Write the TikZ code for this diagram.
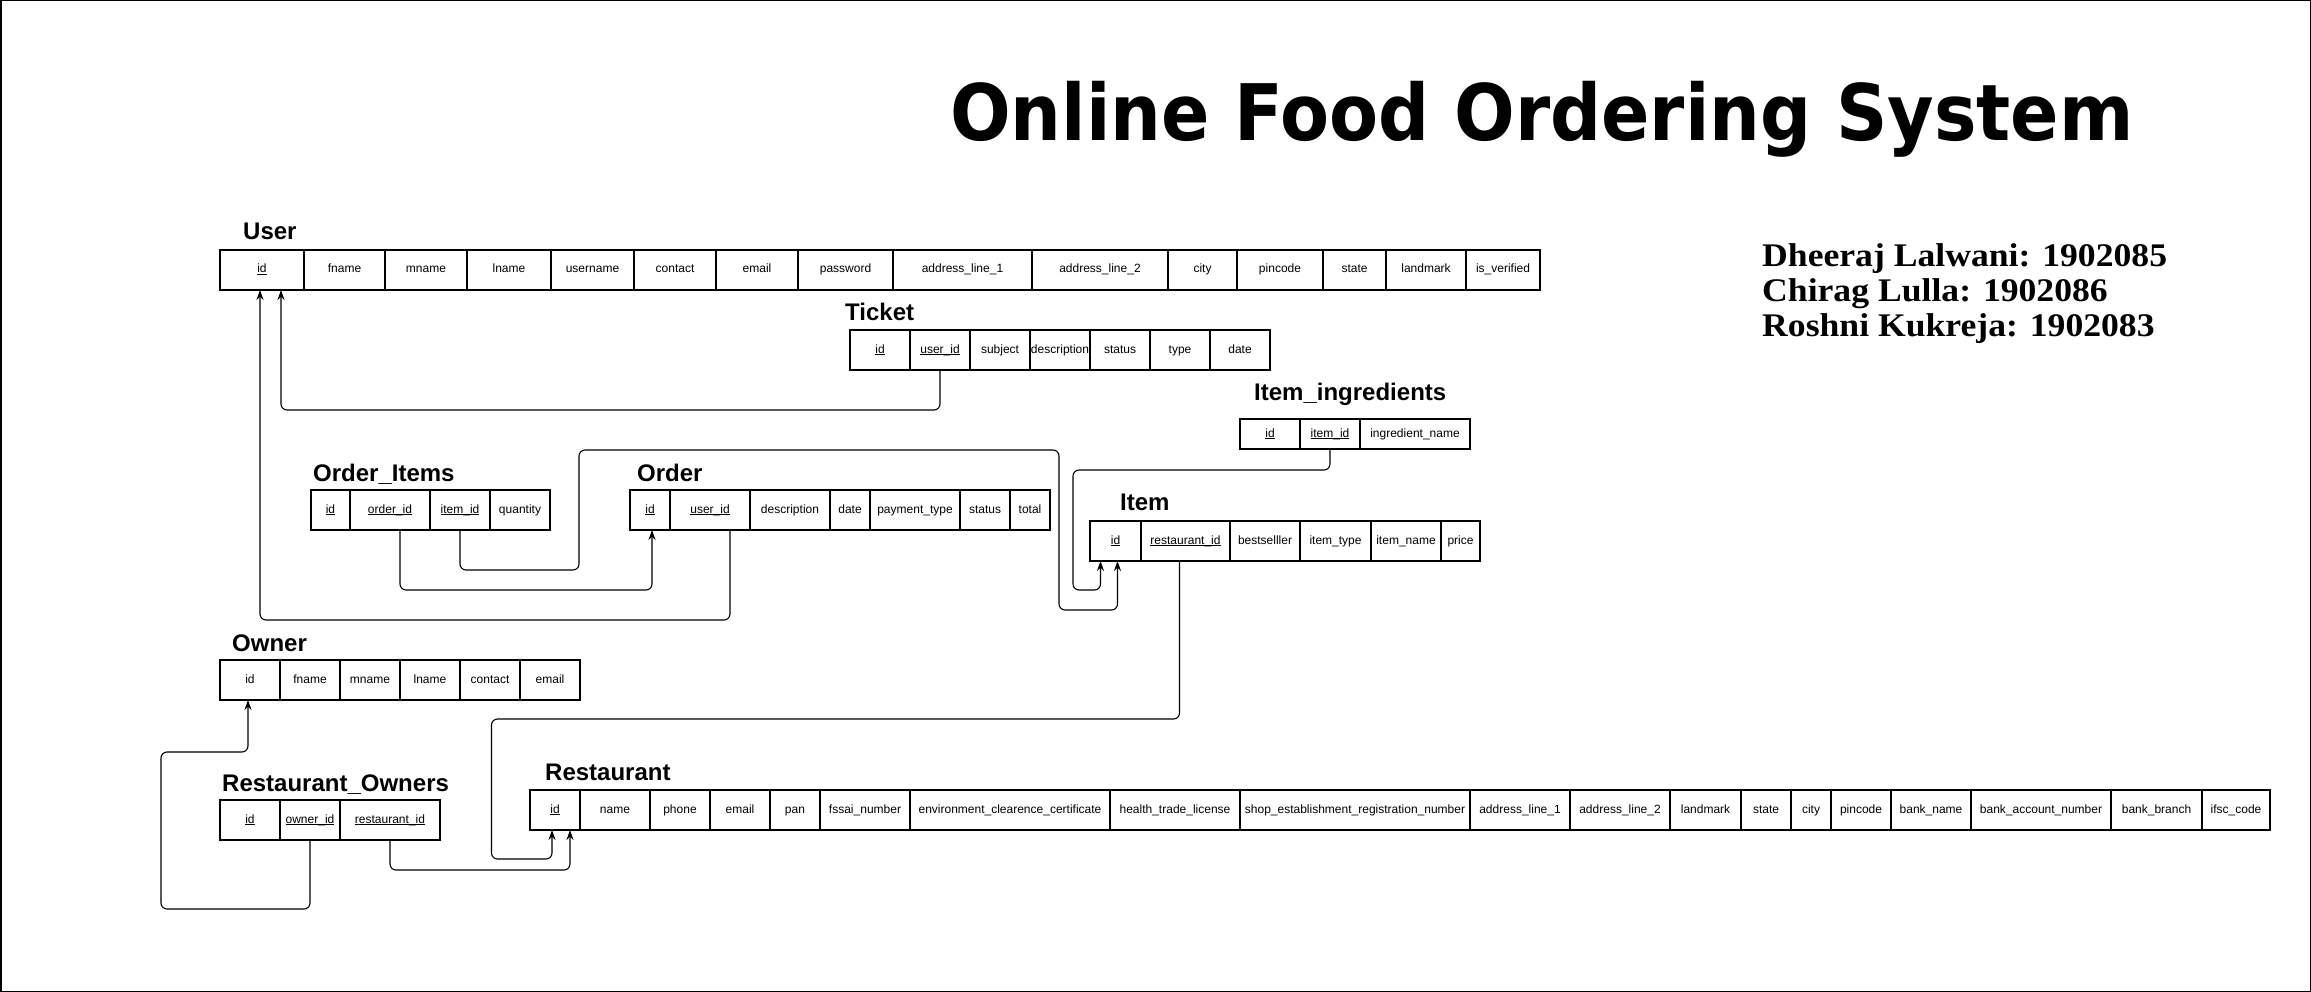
\documentclass[tikz,border=0pt]{standalone}
\usepackage{fontspec}
\setmainfont{Liberation Sans}
\newfontfamily\titlefamily{DejaVu Sans}
\newfontfamily\namefamily{Liberation Serif}
\usepackage{graphicx}
\usetikzlibrary{arrows.meta, positioning}
\newcommand{\Key}[1]{\underline{\smash{#1}}}
\newcommand{\cellfont}{\fontsize{12}{14}\selectfont}
\newcommand{\headfont}{\fontsize{24}{28}\selectfont\bfseries}
\tikzset{
    cell/.style={draw, line width=1.2pt, minimum height=40pt, inner sep=0pt, outer sep=0pt, text height=9pt, text depth=3pt, font=\cellfont},
    tname/.style={font=\headfont, anchor=base west, inner sep=0pt},
    fk/.style={-{Stealth[length=10pt,width=7pt]}, line width=1.1pt, rounded corners=6pt},
    author/.style={font=\namefamily\bfseries\fontsize{33}{35}\selectfont, anchor=base west, inner sep=0pt},
}
\begin{document}
\begin{tikzpicture}[x=1pt, y=-1pt]
    \useasboundingbox (0,0) rectangle (2311,992);
    \draw[line width=1.5pt] (0.75,0.75) rectangle (2310.25,991.25);

    \node[anchor=base west, inner sep=0pt, font=\titlefamily\bfseries\fontsize{78}{80}\selectfont] (title) at (950,141) {\scalebox{0.915}[1]{Online Food Ordering System}};
    \node[author] (n1) at (1762,267) {\scalebox{1.08}[1]{Dheeraj Lalwani: 1902085}};
    \node[author] (n2) at (1762,302) {\scalebox{1.08}[1]{Chirag Lulla: 1902086}};
    \node[author] (n3) at (1762,337) {\scalebox{1.08}[1]{Roshni Kukreja: 1902083}};

    % User
    \node[tname] (user) at (243,240) {User};
    \node[cell, minimum width=84pt, anchor=north west] (u1) at (220,250) {\Key{id}};
    \node[cell, minimum width=81pt, right=0pt of u1] (u2) {fname};
    \node[cell, minimum width=82pt, right=0pt of u2] (u3) {mname};
    \node[cell, minimum width=84pt, right=0pt of u3] (u4) {lname};
    \node[cell, minimum width=83pt, right=0pt of u4] (u5) {username};
    \node[cell, minimum width=82pt, right=0pt of u5] (u6) {contact};
    \node[cell, minimum width=82pt, right=0pt of u6] (u7) {email};
    \node[cell, minimum width=95pt, right=0pt of u7] (u8) {password};
    \node[cell, minimum width=139pt, right=0pt of u8] (u9) {address\_line\_1};
    \node[cell, minimum width=136pt, right=0pt of u9] (u10) {address\_line\_2};
    \node[cell, minimum width=69pt, right=0pt of u10] (u11) {city};
    \node[cell, minimum width=86pt, right=0pt of u11] (u12) {pincode};
    \node[cell, minimum width=63pt, right=0pt of u12] (u13) {state};
    \node[cell, minimum width=80pt, right=0pt of u13] (u14) {landmark};
    \node[cell, minimum width=74pt, right=0pt of u14] (u15) {is\_verified};

    % Ticket
    \node[tname] (ticket) at (845,321) {Ticket};
    \node[cell, minimum width=60pt, anchor=north west] (t1) at (850,330) {\Key{id}};
    \node[cell, minimum width=60pt, right=0pt of t1] (t2) {\Key{user\_id}};
    \node[cell, minimum width=60pt, right=0pt of t2] (t3) {subject};
    \node[cell, minimum width=60pt, right=0pt of t3] (t4) {description};
    \node[cell, minimum width=60pt, right=0pt of t4] (t5) {status};
    \node[cell, minimum width=60pt, right=0pt of t5] (t6) {type};
    \node[cell, minimum width=60pt, right=0pt of t6] (t7) {date};

    % Item_ingredients
    \node[tname] (ingr) at (1254,400) {Item\_ingredients};
    \node[cell, minimum height=30pt, minimum width=60pt, anchor=north west] (ig1) at (1240,419) {\Key{id}};
    \node[cell, minimum height=30pt, minimum width=60pt, right=0pt of ig1] (ig2) {\Key{item\_id}};
    \node[cell, minimum height=30pt, minimum width=110pt, right=0pt of ig2] (ig3) {ingredient\_name};

    % Order_Items
    \node[tname] (oitems) at (313,481) {Order\_Items};
    \node[cell, minimum width=39pt, anchor=north west] (oi1) at (311,490) {\Key{id}};
    \node[cell, minimum width=80pt, right=0pt of oi1] (oi2) {\Key{order\_id}};
    \node[cell, minimum width=60pt, right=0pt of oi2] (oi3) {\Key{item\_id}};
    \node[cell, minimum width=60pt, right=0pt of oi3] (oi4) {quantity};

    % Order
    \node[tname] (order) at (637,481) {Order};
    \node[cell, minimum width=40pt, anchor=north west] (o1) at (630,490) {\Key{id}};
    \node[cell, minimum width=80pt, right=0pt of o1] (o2) {\Key{user\_id}};
    \node[cell, minimum width=80pt, right=0pt of o2] (o3) {description};
    \node[cell, minimum width=40pt, right=0pt of o3] (o4) {date};
    \node[cell, minimum width=90pt, right=0pt of o4] (o5) {payment\_type};
    \node[cell, minimum width=50pt, right=0pt of o5] (o6) {status};
    \node[cell, minimum width=40pt, right=0pt of o6] (o7) {total};

    % Item
    \node[tname] (item) at (1120,510) {Item};
    \node[cell, minimum width=51pt, anchor=north west] (it1) at (1090,521) {\Key{id}};
    \node[cell, minimum width=89pt, right=0pt of it1] (it2) {\Key{restaurant\_id}};
    \node[cell, minimum width=70pt, right=0pt of it2] (it3) {bestselller};
    \node[cell, minimum width=71pt, right=0pt of it3] (it4) {item\_type};
    \node[cell, minimum width=70pt, right=0pt of it4] (it5) {item\_name};
    \node[cell, minimum width=39pt, right=0pt of it5] (it6) {price};

    % Owner
    \node[tname] (owner) at (232,651) {Owner};
    \node[cell, minimum width=60pt, anchor=north west] (ow1) at (220,660) {id};
    \node[cell, minimum width=60pt, right=0pt of ow1] (ow2) {fname};
    \node[cell, minimum width=60pt, right=0pt of ow2] (ow3) {mname};
    \node[cell, minimum width=60pt, right=0pt of ow3] (ow4) {lname};
    \node[cell, minimum width=60pt, right=0pt of ow4] (ow5) {contact};
    \node[cell, minimum width=60pt, right=0pt of ow5] (ow6) {email};

    % Restaurant_Owners
    \node[tname] (rowners) at (222,791) {Restaurant\_Owners};
    \node[cell, minimum width=60pt, anchor=north west] (ro1) at (220,800) {\Key{id}};
    \node[cell, minimum width=60pt, right=0pt of ro1] (ro2) {\Key{owner\_id}};
    \node[cell, minimum width=100pt, right=0pt of ro2] (ro3) {\Key{restaurant\_id}};

    % Restaurant
    \node[tname] (rest) at (545,780) {Restaurant};
    \node[cell, minimum width=50pt, anchor=north west] (r1) at (530,790) {\Key{id}};
    \node[cell, minimum width=70pt, right=0pt of r1] (r2) {name};
    \node[cell, minimum width=60pt, right=0pt of r2] (r3) {phone};
    \node[cell, minimum width=60pt, right=0pt of r3] (r4) {email};
    \node[cell, minimum width=50pt, right=0pt of r4] (r5) {pan};
    \node[cell, minimum width=90pt, right=0pt of r5] (r6) {fssai\_number};
    \node[cell, minimum width=200pt, right=0pt of r6] (r7) {environment\_clearence\_certificate};
    \node[cell, minimum width=130pt, right=0pt of r7] (r8) {health\_trade\_license};
    \node[cell, minimum width=230pt, right=0pt of r8] (r9) {shop\_establishment\_registration\_number};
    \node[cell, minimum width=100pt, right=0pt of r9] (r10) {address\_line\_1};
    \node[cell, minimum width=100pt, right=0pt of r10] (r11) {address\_line\_2};
    \node[cell, minimum width=71pt, right=0pt of r11] (r12) {landmark};
    \node[cell, minimum width=50pt, right=0pt of r12] (r13) {state};
    \node[cell, minimum width=40pt, right=0pt of r13] (r14) {city};
    \node[cell, minimum width=60pt, right=0pt of r14] (r15) {pincode};
    \node[cell, minimum width=80pt, right=0pt of r15] (r16) {bank\_name};
    \node[cell, minimum width=140pt, right=0pt of r16] (r17) {bank\_account\_number};
    \node[cell, minimum width=91pt, right=0pt of r17] (r18) {bank\_branch};
    \node[cell, minimum width=68pt, right=0pt of r18] (r19) {ifsc\_code};

    % foreign keys
    \draw[fk] (t2.south) -- ++(0,40) -| ([xshift=19pt]u1.south);
    \draw[fk] ([xshift=20pt]o2.south) -- ++(0,90) -| ([xshift=-2pt]u1.south);
    \draw[fk] ([xshift=10pt]oi2.south) -- ++(0,60) -| ([xshift=2pt]o1.south);
    \draw[fk] (oi3.south) -- ++(0,40) -| ++(119,-120) -| ++(480,160) -| ([xshift=2pt]it1.south);
    \draw[fk] (ig2.south) -- ++(0,21) -| ++(-257,120) -| ([xshift=-15pt]it1.south);
    \draw[fk] ([xshift=-6pt]it2.south) -- ++(0,158) -| ++(-688,140) -| ([xshift=-3pt]r1.south);
    \draw[fk] (ro3.south) -- ++(0,30) -| ([xshift=15pt]r1.south);
    \draw[fk] (ro2.south) -- ++(0,69) -| ++(-149,-157) -| ([xshift=-2pt]ow1.south);
\end{tikzpicture}
\end{document}
